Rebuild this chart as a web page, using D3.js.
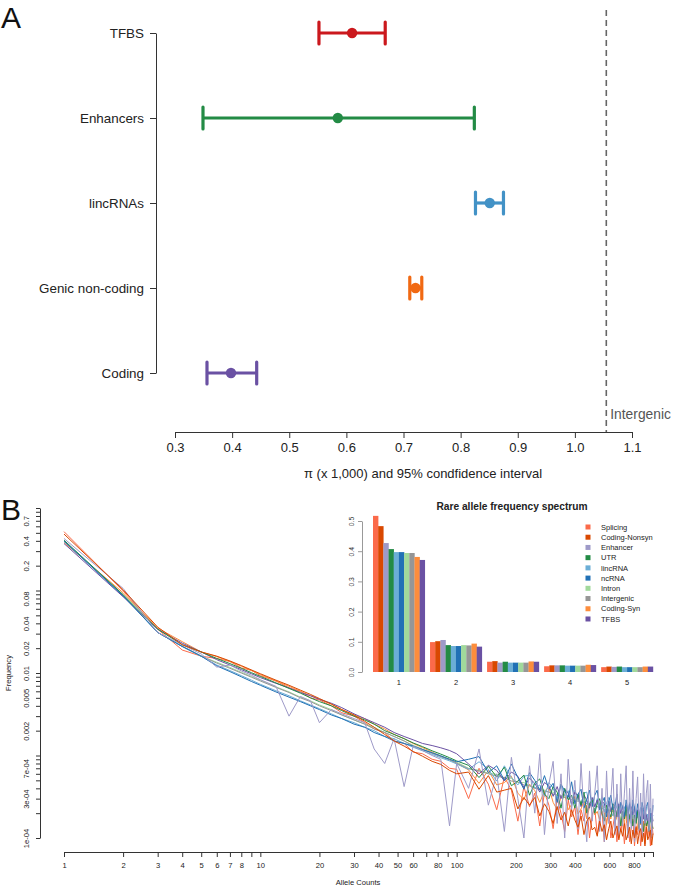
<!DOCTYPE html>
<html><head><meta charset="utf-8">
<script src="https://cdn.jsdelivr.net/npm/d3@7"></script>
<style>
body{margin:0;background:#fff;}
svg{display:block;font-family:"Liberation Sans",Arial,Helvetica,sans-serif;}
</style>
</head><body>
<svg id="c" width="675" height="889"></svg>
<script>
// ---------------- Panel A data ----------------
const piCategories = ["TFBS", "Enhancers", "lincRNAs", "Genic non-coding", "Coding"];
const piEstimate = [0.610, 0.585, 0.851, 0.721, 0.398];
const piLower    = [0.552, 0.349, 0.826, 0.711, 0.356];
const piUpper    = [0.668, 0.824, 0.875, 0.732, 0.443];
const piColors   = ["#CB181D", "#238B45", "#4292C6", "#F16913", "#6A51A3"];
const piTicks    = [0.3, 0.4, 0.5, 0.6, 0.7, 0.8, 0.9, 1.0, 1.1];
const intergenicPi = 1.055;

// ---------------- Panel B data ----------------
const seriesNames  = ["Splicing", "Coding-Nonsyn", "Enhancer", "UTR", "lincRNA", "ncRNA", "Intron", "Intergenic", "Coding-Syn", "TFBS"];
const seriesColors = ["#FB6A4A", "#D94801", "#9E9AC8", "#238B45", "#6BAED6", "#2171B5", "#A1D99B", "#969696", "#FD8D3C", "#6A51A3"];
const drawOrder    = ["Splicing", "Coding-Syn", "Intron", "Intergenic", "lincRNA", "TFBS", "UTR", "ncRNA", "Enhancer", "Coding-Nonsyn"];

const headCounts = [1,2,3,4,5,6,7,8,9,10,12,14,16,18,20,23,26,30,34,38,43,48,54,60,67,75,83,92,100];
const tailCounts = [115,130,145,160,175,190,205,220,235,250,265,280,295,310,325,340,355,370,385,400,
                    415,430,445,460,475,490,505,520,535,550,565,580,595,610,625,640,655,670,685,700,
                    715,730,745,760,775,790,805,820,835,850,865,880,895,910,925,940,955,970,985,1000];

// head values: frequency; tail values: frequency in units of 1e-4
const splicingHead = [.517,.099,.034,.019,.016,.0150,.0138,.0115,.0108,.0093,.0080,.0066,.0060,.0050,.0047,.0040,.0033,.0030,.0025,.0021,.0019,.0015,.0014,.0011,.00105,.0009,.00085,.0007,.00068];
const splicingTailE4 = [3.0,7.0,4.5,2.2,5.5,3.8,1.6,4.2,2.4,3.5, 1.4,3.6,2.5,1.3,3.0,2.0,1.2,2.9,1.8,2.4, 1.1,2.2,1.6,2.5,1.0,1.9,2.3,1.1,1.7,2.1, .9,1.6,2.2,1.0,1.4,1.9,.9,1.8,1.2,1.6, .85,1.5,1.9,.9,1.3,1.7,.8,1.4,1.1,1.7, .8,1.2,1.6,.85,1.5,1.0,1.4,.8,1.6,1.1];

const codingNonsynHead = [.483,.102,.036,.022,.018,.0160,.0140,.0123,.0109,.0098,.0082,.0071,.0062,.0055,.0049,.0042,.0036,.0031,.0026,.0022,.0018,.0015,.0013,.00112,.00098,.00085,.00078,.00066,.00060];
const codingNonsynTailE4 = [6.3,3.9,5.7,3.6,3.8,4.0,2.25,3.1,2.5,3.1, 1.85,2.6,2.1,1.5,2.4,1.65,2.05,1.4,2.2,1.65, 1.35,1.85,1.1,1.6,1.8,1.25,1.35,1.05,1.6,1.2, 1.45,.95,1.3,1.6,1.0,1.2,1.4,.95,1.3,1.05, 1.5,.95,1.1,1.35,.85,1.25,1.0,1.35,.85,1.15, 1.3,.9,1.15,.8,1.35,.95,1.05,1.25,.82,1.13];

const enhancerHead = [.427,.106,.031,.022,.017,.0118,.0125,.0106,.0094,.0083,.0069,.0030,.0052,.0046,.0025,.0036,.0032,.0028,.0025,.0012,.0008,.0016,.00042,.0013,.00115,.0010,.0009,.00014,.0008];
const enhancerTailE4 = [4.0,12.0,2.5,6.0,1.2,9.5,3.0,1.0,7.5,2.0, 10.5,1.1,4.5,8.5,1.5,6.0,1.0,9.0,2.2,5.0, 1.3,8.0,2.0,.9,6.5,1.6,3.5,7.5,1.2,4.0, .9,6.5,1.5,3.0,7.0,1.1,4.5,1.0,6.0,1.4, 3.5,7.5,1.0,4.0,1.3,6.5,.9,3.0,5.5,1.2, 3.5,1.0,6.0,1.5,3.5,5.0,1.2,4.5,1.0,3.0];

const utrHead = [.407,.089,.034,.022,.018,.0150,.0130,.0114,.0101,.0091,.0076,.0065,.0057,.0050,.0045,.0040,.0035,.0030,.0027,.0024,.0020,.0018,.0016,.00142,.00128,.00114,.00104,.00094,.00086];
const utrTailE4 = [7.6,5.4,7.4,5.5,7.2,4.3,4.9,5.8,3.3,4.6, 5.2,3.4,3.0,4.2,3.6,2.3,4.0,2.9,3.3,2.3, 3.4,2.5,3.6,2.0,2.6,2.9,2.0,2.6,3.0,2.0, 1.6,2.5,2.1,1.8,2.6,1.6,2.1,2.4,1.4,2.1, 1.7,2.4,1.4,1.85,2.1,1.4,1.9,1.5,2.1,1.3, 1.8,1.5,1.2,1.9,1.4,1.6,1.2,1.8,1.45,1.3];

const lincRNAHead = [.397,.086,.031,.021,.016,.0125,.0107,.0093,.0082,.0073,.0061,.0053,.0046,.0041,.0037,.0032,.0028,.0025,.0022,.0020,.0017,.0016,.0014,.00126,.00114,.00103,.00094,.00086,.00079];
const lincRNATailE4 = [6.8,8.4,6.8,4.9,7.5,5.4,4.4,5.6,5.8,4.0, 4.4,3.2,4.7,4.0,3.0,4.5,3.2,3.75,2.5,3.8, 3.0,2.5,3.5,3.6,2.5,2.8,2.1,3.0,2.5,3.1, 2.05,2.65,3.1,2.1,1.85,2.7,2.3,2.1,2.7,1.7, 2.4,2.1,1.75,2.7,1.8,2.1,2.4,1.55,2.1,1.8, 2.35,1.6,1.85,2.2,1.65,1.95,1.45,2.3,1.7,1.9];

const ncRNAHead = [.397,.086,.031,.021,.016,.0122,.0104,.0090,.0079,.0071,.0059,.0051,.0045,.0040,.0036,.0031,.0028,.0024,.0022,.0019,.0017,.0015,.0014,.0013,.00118,.00108,.00099,.0009,.00084];
const ncRNATailE4 = [9.0,9.7,6.2,7.5,5.0,7.9,5.4,3.9,6.2,5.0, 3.8,5.7,3.9,4.6,2.7,4.5,3.7,3.1,4.8,2.6, 3.4,3.9,2.3,2.9,3.8,2.4,3.3,3.8,2.2,2.7, 3.1,1.8,2.8,3.3,2.2,2.4,3.4,1.8,2.7,2.4, 1.8,2.9,2.0,2.6,1.5,2.9,2.3,1.8,2.6,2.0, 1.5,2.7,2.2,1.6,2.4,2.7,1.7,2.0,1.4,2.5];

const intronHead = [.394,.089,.031,.021,.016,.0135,.0117,.0102,.0091,.0082,.0068,.0059,.0051,.0046,.0041,.0036,.0031,.0027,.0024,.0022,.0019,.0017,.0015,.00133,.0012,.00108,.00099,.0009,.00083];
const intronTailE4 = [7.0,6.6,6.1,5.9,5.3,5.3,4.7,4.7,4.3,4.1, 4.0,3.8,3.6,3.6,3.3,3.3,3.1,3.2,2.9,2.9, 2.9,2.7,2.8,2.6,2.6,2.6,2.5,2.4,2.45,2.3, 2.35,2.25,2.25,2.2,2.2,2.15,2.1,2.15,2.0,2.05, 2.0,2.0,1.95,1.9,1.95,1.85,1.9,1.85,1.8,1.85, 1.8,1.75,1.8,1.7,1.75,1.7,1.7,1.65,1.7,1.6];

const intergenicHead = [.394,.088,.031,.021,.016,.0132,.0114,.0100,.0089,.0080,.0067,.0058,.0050,.0045,.0040,.0035,.0031,.0027,.0024,.0021,.0019,.0017,.0015,.0013,.00118,.00106,.00097,.00088,.00081];
const intergenicTailE4 = [6.9,6.5,6.0,5.6,5.4,4.9,4.8,4.4,4.3,4.0, 3.9,3.7,3.6,3.4,3.3,3.2,3.1,3.0,2.9,2.8, 2.8,2.7,2.7,2.6,2.5,2.5,2.4,2.4,2.3,2.3, 2.2,2.2,2.2,2.1,2.1,2.1,2.0,2.0,2.0,1.9, 1.9,1.9,1.9,1.9,1.8,1.8,1.8,1.8,1.8,1.7, 1.7,1.7,1.7,1.7,1.7,1.6,1.6,1.6,1.6,1.6];

const codingSynHead = [.381,.094,.035,.024,.018,.0158,.0138,.0121,.0107,.0096,.0080,.0069,.0060,.0053,.0048,.0042,.0036,.0031,.0028,.0024,.0021,.0018,.0016,.0014,.00125,.0011,.00098,.0009,.0008];
const codingSynTailE4 = [6.7,4.6,6.6,4.4,4.7,5.6,3.5,2.9,4.5,3.75, 2.7,3.7,4.1,2.7,2.2,3.1,3.4,2.2,2.55,3.2, 1.95,2.25,2.8,1.7,2.4,2.8,1.9,2.1,1.65,2.5, 2.05,1.45,2.2,1.7,2.4,1.55,1.8,2.15,1.4,1.9, 1.5,2.2,1.25,1.75,1.95,1.4,1.6,1.95,1.25,1.7, 1.45,2.0,1.2,1.7,1.35,1.45,1.8,1.1,1.6,1.3];

const tfbsHead = [.371,.084,.034,.023,.018,.0145,.0125,.0110,.0098,.0088,.0075,.0066,.0058,.0053,.0048,.0043,.0038,.0032,.0028,.0025,.0022,.0019,.0017,.00155,.0014,.00132,.00124,.00115,.00105];
const tfbsTailE4 = [7.9,6.0,7.6,6.6,4.9,6.3,5.6,4.1,5.3,4.6, 3.6,4.7,4.3,3.2,4.2,3.0,3.9,3.5,2.6,3.6, 3.2,2.4,3.3,2.9,2.3,3.1,2.4,2.9,2.2,2.8, 2.6,2.0,2.8,2.1,2.6,2.4,1.8,2.6,2.0,2.4, 1.8,2.5,2.2,1.7,2.4,1.9,2.3,1.6,2.2,2.0, 1.6,2.3,1.7,2.1,1.9,1.5,2.2,1.7,2.0,1.6];

const seriesHeads = [splicingHead, codingNonsynHead, enhancerHead, utrHead, lincRNAHead, ncRNAHead, intronHead, intergenicHead, codingSynHead, tfbsHead];
const seriesTails = [splicingTailE4, codingNonsynTailE4, enhancerTailE4, utrTailE4, lincRNATailE4, ncRNATailE4, intronTailE4, intergenicTailE4, codingSynTailE4, tfbsTailE4];

const rareGroups = ["1", "2", "3", "4", "5"];   // inset uses allele counts 1..5 from the head arrays
const freqLabeledTicks = [1e-4, 3e-4, 7e-4, 0.002, 0.005, 0.01, 0.02, 0.04, 0.08, 0.2, 0.4, 0.7];
const freqTickLabels = ["1e-04", "3e-04", "7e-04", "0.002", "0.005", "0.01", "0.02", "0.04", "0.08", "0.2", "0.4", "0.7"];
const countLabeledTicks = [1,2,3,4,5,6,7,8,10,20,30,40,50,60,80,100,200,300,400,600,800];
const insetTicks = [0, 0.1, 0.2, 0.3, 0.4, 0.5];

// ---------------- Drawing ----------------
const svg = d3.select("#c");
const AX = "#333";
const FF = "Liberation Sans, Arial, sans-serif";

// Panel letters
svg.append("text").attr("x", 1).attr("y", 27.5).attr("font-size", 30).attr("fill", "#111").text("A");
svg.append("text").attr("x", 1).attr("y", 520).attr("font-size", 30).attr("fill", "#111").text("B");

// ===== Panel A =====
const xA = d3.scaleLinear().domain([0.3, 1.1]).range([175, 632]);
const yA = d3.scalePoint().domain(piCategories).range([33, 373]);

const gAy = svg.append("g").attr("transform", "translate(156,0)")
  .call(d3.axisLeft(yA).tickSize(6).tickSizeOuter(0).tickPadding(6));
gAy.selectAll("text").attr("font-size", 13.4).attr("fill", "#222").attr("font-family", FF);
gAy.selectAll("path,line").attr("stroke", AX);

const gAx = svg.append("g").attr("transform", "translate(0,432)")
  .call(d3.axisBottom(xA).tickValues(piTicks).tickFormat(d3.format(".1f")).tickSize(6).tickSizeOuter(0).tickPadding(5));
gAx.selectAll("text").attr("font-size", 13).attr("fill", "#222").attr("font-family", FF);
gAx.selectAll("path,line").attr("stroke", AX);

svg.append("text").attr("x", 423).attr("y", 478).attr("text-anchor", "middle")
  .attr("font-size", 13).attr("fill", "#222").text("π (x 1,000) and 95% condfidence interval");

// intergenic reference line
svg.append("line").attr("x1", xA(intergenicPi)).attr("x2", xA(intergenicPi))
  .attr("y1", 10).attr("y2", 432).attr("stroke", "#666").attr("stroke-width", 1.6)
  .attr("stroke-dasharray", "6,4");
svg.append("text").attr("x", xA(intergenicPi) + 4).attr("y", 419)
  .attr("font-size", 13.8).attr("fill", "#555").text("Intergenic");

const bars = svg.append("g").selectAll("g").data(piCategories).join("g");
bars.each(function(d, i) {
  const g = d3.select(this), y = yA(d), c = piColors[i];
  g.append("line").attr("x1", xA(piLower[i])).attr("x2", xA(piUpper[i])).attr("y1", y).attr("y2", y)
    .attr("stroke", c).attr("stroke-width", 3.2);
  [piLower[i], piUpper[i]].forEach(v => {
    g.append("line").attr("x1", xA(v)).attr("x2", xA(v)).attr("y1", y - 11).attr("y2", y + 11)
      .attr("stroke", c).attr("stroke-width", 3.2).attr("stroke-linecap", "round");
  });
  g.append("circle").attr("cx", xA(piEstimate[i])).attr("cy", y).attr("r", 5.2).attr("fill", c);
});

// ===== Panel B =====
const xB = d3.scaleLog().domain([1, 1000]).range([64, 653]);
const yB = d3.scaleLog().domain([1e-4, 1]).range([838, 508]);
const FS = 7.6;

svg.append("defs").append("clipPath").attr("id", "clipB")
  .append("rect").attr("x", 41).attr("y", 495).attr("width", 630).attr("height", 352);

const gBy = svg.append("g").attr("transform", "translate(40,0)")
  .call(d3.axisLeft(yB).tickValues(yB.ticks()).tickSize(4).tickSizeOuter(0)
    .tickFormat(v => { const k = freqLabeledTicks.findIndex(t => Math.abs(t - v) / t < 1e-6); return k >= 0 ? freqTickLabels[k] : ""; }));
gBy.selectAll("path,line").attr("stroke", AX);
gBy.selectAll("text").attr("font-size", FS).attr("fill", "#222").attr("font-family", FF)
  .attr("transform", "rotate(-90)").attr("x", 0).attr("y", -11).attr("dy", 0).attr("text-anchor", "middle");

const gBx = svg.append("g").attr("transform", "translate(0,852)")
  .call(d3.axisBottom(xB).tickValues(xB.ticks()).tickSize(5).tickSizeOuter(0).tickPadding(6)
    .tickFormat(v => countLabeledTicks.some(t => Math.abs(t - v) < 1e-6) ? String(Math.round(v)) : ""));
gBx.selectAll("path,line").attr("stroke", AX);
gBx.selectAll("text").attr("font-size", FS).attr("fill", "#222").attr("font-family", FF);

svg.append("text").attr("x", 358).attr("y", 885).attr("text-anchor", "middle").attr("font-size", FS).attr("fill", "#222").text("Allele Counts");
svg.append("text").attr("transform", "translate(11,673) rotate(-90)").attr("text-anchor", "middle").attr("font-size", FS).attr("fill", "#222").text("Frequency");

const allCounts = headCounts.concat(tailCounts);
const line = d3.line().x(d => xB(d[0])).y(d => yB(d[1]));
const gLines = svg.append("g").attr("clip-path", "url(#clipB)");
drawOrder.forEach(name => {
  const i = seriesNames.indexOf(name);
  const vals = seriesHeads[i].concat(seriesTails[i].map(v => v * 1e-4));
  const pts = allCounts.map((c, j) => [c, vals[j]]);
  gLines.append("path").attr("d", line(pts)).attr("fill", "none")
    .attr("stroke", seriesColors[i]).attr("stroke-width", 1).attr("stroke-linejoin", "round");
});

// ===== Inset =====
const xG = d3.scaleBand().domain(rareGroups).range([373, 653]).paddingInner(1 / 11).paddingOuter(0);
const xS = d3.scaleBand().domain(seriesNames).range([0, xG.bandwidth()]).padding(0);
const yI = d3.scaleLinear().domain([0, 0.5]).range([672, 521]);

const gI = svg.append("g");
rareGroups.forEach((gName, gi) => {
  seriesNames.forEach((s, si) => {
    const v = seriesHeads[si][gi];
    gI.append("rect").attr("x", xG(gName) + xS(s)).attr("width", xS.bandwidth() + 0.2)
      .attr("y", yI(v)).attr("height", yI(0) - yI(v)).attr("fill", seriesColors[si]);
  });
  gI.append("text").attr("x", xG(gName) + xG.bandwidth() / 2).attr("y", 685).attr("text-anchor", "middle")
    .attr("font-size", 7.5).attr("fill", "#222").text(gName);
});
const gIy = svg.append("g").attr("transform", "translate(362,0)")
  .call(d3.axisLeft(yI).tickValues(insetTicks).tickFormat(d3.format(".1f")).tickSize(4).tickSizeOuter(0));
gIy.selectAll("path,line").attr("stroke", "#999");
gIy.selectAll("text").attr("font-size", 6.8).attr("fill", "#333").attr("font-family", FF)
  .attr("transform", "rotate(-90)").attr("x", 0).attr("y", -8).attr("dy", 0).attr("text-anchor", "middle");

svg.append("text").attr("x", 512).attr("y", 510).attr("text-anchor", "middle").attr("font-size", 10.2)
  .attr("font-weight", "bold").attr("fill", "#222").text("Rare allele frequency spectrum");

const legend = svg.append("g").selectAll("g").data(seriesNames).join("g")
  .attr("transform", (d, i) => `translate(0,${527 + i * 10.22})`);
legend.append("rect").attr("x", 585.5).attr("y", -2.5).attr("width", 5).attr("height", 5).attr("fill", (d, i) => seriesColors[i]);
legend.append("text").attr("x", 601).attr("y", 0).attr("dy", "0.35em").attr("font-size", 7.5).attr("fill", "#222").text(d => d);
</script>
</body></html>
